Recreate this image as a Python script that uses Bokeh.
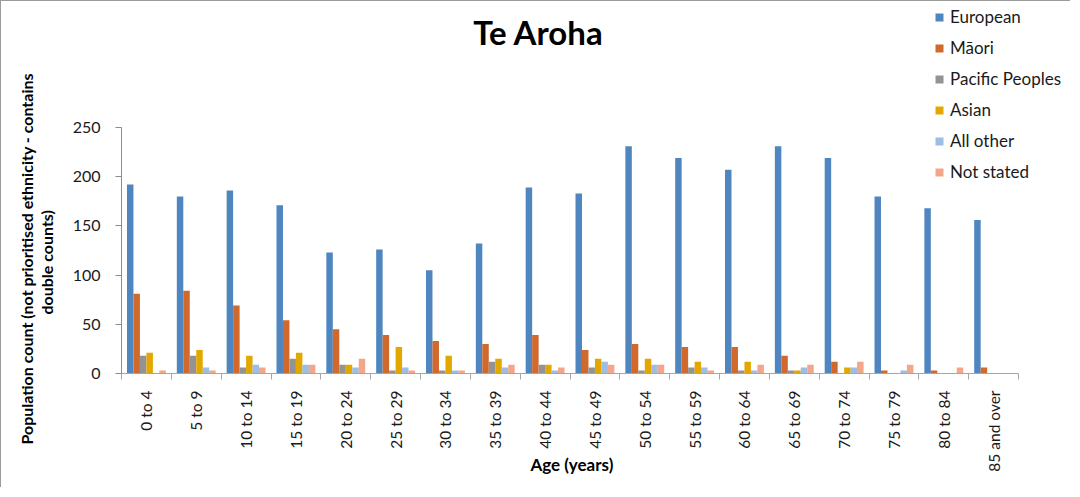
import math
from bokeh.plotting import figure
from bokeh.models import (Range1d, FixedTicker, LinearAxis, Legend, LegendItem,
                          Label, Title, ColumnDataSource)
from bokeh.transform import dodge
from bokeh.embed import file_html
from bokeh.resources import INLINE

# ---- data ----
age_groups = ["0 to 4", "5 to 9", "10 to 14", "15 to 19", "20 to 24", "25 to 29",
              "30 to 34", "35 to 39", "40 to 44", "45 to 49", "50 to 54", "55 to 59",
              "60 to 64", "65 to 69", "70 to 74", "75 to 79", "80 to 84", "85 and over"]
european = [192, 180, 186, 171, 123, 126, 105, 132, 189, 183, 231, 219, 207, 231, 219, 180, 168, 156]
maori = [81, 84, 69, 54, 45, 39, 33, 30, 39, 24, 30, 27, 27, 18, 12, 3, 3, 6]
pacific = [18, 18, 6, 15, 9, 3, 3, 12, 9, 6, 3, 6, 3, 3, 0, 0, 0, 0]
asian = [21, 24, 18, 21, 9, 27, 18, 15, 9, 15, 15, 12, 12, 3, 6, 0, 0, 0]
all_other = [0, 6, 9, 9, 6, 6, 3, 6, 3, 12, 9, 6, 3, 6, 6, 3, 0, 0]
not_stated = [3, 3, 6, 9, 15, 3, 3, 9, 6, 9, 9, 3, 9, 9, 12, 9, 6, 0]

series_names = ["European", "Māori", "Pacific Peoples", "Asian", "All other", "Not stated"]
series_values = [european, maori, pacific, asian, all_other, not_stated]
series_colors = ["#4F86BF", "#D1692C", "#939393", "#E2A800", "#9DBDE3", "#F3A68A"]
y_ticks = [0, 50, 100, 150, 200, 250]
y_max = 250
y_title_lines = ["Population count (not prioritised  ethnicity - contains", "double counts)"]
x_title = "Age (years)"

FONT = "Lato"
n = len(age_groups)
centers = [i + 0.5 for i in range(n)]
src = ColumnDataSource(dict(x=centers, **{f"s{j}": v for j, v in enumerate(series_values)}))

# geometry (canvas px): axes box spans 119..1017 horizontally, 126..372 vertically;
# the frame is extended to the top and right edges so the title/legend are not clipped
W, H = 1070, 487
ax_left, ax_right, ax_top, ax_bottom = 119, 1017, 126, 372
x_end = n * (W - ax_left) / (ax_right - ax_left)
y_end = y_max * (ax_bottom - 0) / (ax_bottom - ax_top)

p = figure(width=W, height=H, output_backend="svg", toolbar_location=None,
           x_range=Range1d(0, x_end), y_range=Range1d(0, y_end),
           min_border_left=ax_left, min_border_right=0, min_border_top=0,
           min_border_bottom=H - ax_bottom, x_axis_type=None, y_axis_type=None)
p.styles = {"border-left": "1px solid #9b9b9b", "border-top": "1px solid #9b9b9b"}
p.outline_line_color = None
p.xgrid.visible = False
p.ygrid.visible = False
p.background_fill_color = "white"
p.border_fill_color = "white"

FS = "\u2007"  # figure space, used as padding so the titles sit where the reference has them

# axes
xaxis = LinearAxis(ticker=FixedTicker(ticks=centers, minor_ticks=list(range(n + 1))),
                   bounds=(0, n))
xaxis.major_label_overrides = {c: lab for c, lab in zip(centers, age_groups)}
xaxis.major_label_orientation = math.pi / 2
xaxis.major_tick_out = 0
xaxis.major_tick_in = 0
xaxis.minor_tick_out = 6
xaxis.minor_tick_in = 0
xaxis.minor_tick_line_color = "#a6a6a6"
xaxis.axis_line_color = "#a6a6a6"
xaxis.major_label_standoff = 11
xaxis.major_label_text_font = FONT
xaxis.major_label_text_font_size = "15.5px"
xaxis.major_label_text_color = "#1a1a1a"
xaxis.axis_label = x_title + FS * 5
xaxis.axis_label_text_font = FONT
xaxis.axis_label_text_font_size = "17px"
xaxis.axis_label_text_font_style = "bold"
xaxis.axis_label_text_color = "#000000"
xaxis.axis_label_standoff = -21
p.add_layout(xaxis, "below")

yaxis = LinearAxis(ticker=FixedTicker(ticks=y_ticks), bounds=(0, y_max))
yaxis.major_tick_out = 6
yaxis.major_tick_in = 0
yaxis.minor_tick_out = 0
yaxis.minor_tick_in = 0
yaxis.major_tick_line_color = "#8c8c8c"
yaxis.axis_line_color = "#8c8c8c"
yaxis.major_label_standoff = 15
yaxis.major_label_text_font = FONT
yaxis.major_label_text_font_size = "16px"
yaxis.major_label_text_color = "#1a1a1a"
p.add_layout(yaxis, "left")

# y-axis title: two lines, the second centred under the first with leading padding
y_title = Title(text=y_title_lines[0] + "\n" + FS * 14 + y_title_lines[1],
                align="left", offset=-71, standoff=26, vertical_align="bottom",
                text_font=FONT, text_font_size="16px", text_font_style="bold",
                text_color="#000000", text_line_height=1.1)
p.add_layout(y_title, "left")

# bars
bw = 0.13
items = []
for j, (name, color) in enumerate(zip(series_names, series_colors)):
    r = p.vbar(x=dodge("x", (j - 2.5) * bw, range=p.x_range), top=f"s{j}", width=bw,
               source=src, fill_color=color, line_color=None)
    items.append(LegendItem(label=name, renderers=[r]))

legend = Legend(items=items, location=(813, 191), orientation="vertical",
                glyph_width=10, glyph_height=10, label_height=20, spacing=10,
                label_standoff=6, padding=0, margin=0, border_line_color=None,
                background_fill_alpha=0, label_text_font=FONT,
                label_text_font_size="17px", label_text_color="#1a1a1a")
p.add_layout(legend, "center")

# chart title
p.add_layout(Label(x=417, y=342, x_units="screen", y_units="screen", text="Te Aroha",
                   text_font=FONT, text_font_size="33px", text_font_style="bold",
                   text_align="center", text_baseline="middle", text_color="#000000"))

open("out.html", "w").write(file_html(p, INLINE))
